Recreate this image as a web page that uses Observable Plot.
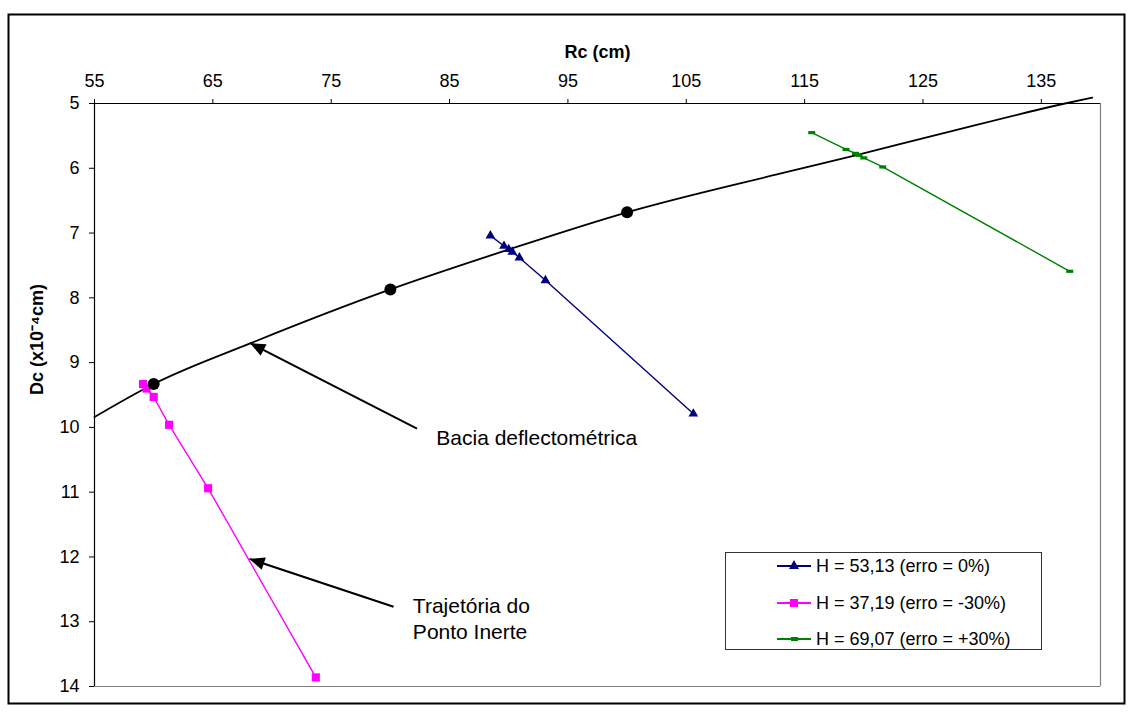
<!DOCTYPE html>
<html>
<head>
<meta charset="utf-8">
<script src="https://cdn.jsdelivr.net/npm/d3@7"></script>
<script src="https://cdn.jsdelivr.net/npm/@observablehq/plot@0.6"></script>
<style>
  html, body { margin: 0; padding: 0; background: #fff; }
  #wrap { position: relative; width: 1132px; height: 716px; font-family: "Liberation Sans", Arial, sans-serif; }
  #wrap svg { position: absolute; left: 0; top: 0; }
  #legend { position: absolute; left: 725px; top: 552px; width: 315px; height: 96px; border: 1px solid #333; background: #fff; font-size: 18px; color: #000; }
  .row { position: absolute; left: 0; height: 20px; width: 100%; }
  .sw { position: absolute; left: 51px; top: 9px; width: 34px; height: 2px; }
  .lab { position: absolute; left: 90px; top: 0; line-height: 20px; white-space: nowrap; }
  .mk { position: absolute; }
</style>
</head>
<body>
<div id="wrap"></div>
<script>
// ---- data ----
const xTicks = [55, 65, 75, 85, 95, 105, 115, 125, 135];
const yTicks = [5, 6, 7, 8, 9, 10, 11, 12, 13, 14];

// Bacia deflectométrica (black curve) and its marked points
const rcBacia = [55, 60, 68.2, 80, 89.9, 100, 113, 119.3, 126.5, 137, 139.3];
const dcBacia = [9.84, 9.33, 8.70, 7.87, 7.26, 6.68, 6.08, 5.80, 5.47, 5.0, 4.91];
const rcDots = [60, 80, 100];
const dcDots = [9.33, 7.87, 6.68];

// H = 53,13 (erro = 0%)
const rcH53 = [88.45, 89.6, 90.0, 90.3, 90.9, 93.1, 105.6];
const dcH53 = [7.04, 7.20, 7.25, 7.29, 7.38, 7.73, 9.79];
// H = 37,19 (erro = -30%)
const rcH37 = [59.1, 59.4, 60.0, 61.3, 64.6, 73.7];
const dcH37 = [9.33, 9.40, 9.53, 9.96, 10.94, 13.86];
// H = 69,07 (erro = +30%)
const rcH69 = [115.6, 118.5, 119.3, 119.6, 120.0, 121.6, 137.4];
const dcH69 = [5.45, 5.71, 5.77, 5.80, 5.84, 5.98, 7.59];

// annotations
const noteText = ["Bacia deflectométrica", "Trajetória do\nPonto Inerte"];
const noteRc = [83.88, 81.9];
const noteDc = [10.14, 12.94];
const arrowTailRc = [82.25, 80.27];
const arrowTailDc = [10.02, 12.77];
const arrowTipRc = [68.16, 68.10];
const arrowTipDc = [8.70, 12.03];

const seriesNames = ["H = 53,13 (erro = 0%)", "H = 37,19 (erro = -30%)", "H = 69,07 (erro = +30%)"];
const seriesColors = ["#000080", "#FF00FF", "#008000"];

// ---- build tables ----
const zip = (xs, ys) => xs.map((x, i) => ({x, y: ys[i]}));
const bacia = zip(rcBacia, dcBacia);
const dots = zip(rcDots, dcDots);
const h53 = zip(rcH53, dcH53);
const h37 = zip(rcH37, dcH37);
const h69 = zip(rcH69, dcH69);
const notes = noteText.map((t, i) => ({t, x: noteRc[i], y: noteDc[i]}));

const base = {
  width: 1132,
  height: 716,
  marginLeft: 94,
  marginTop: 103,
  marginRight: 32,
  marginBottom: 30,
  x: {domain: [55, 140]},
  y: {domain: [5, 14], reverse: true},
  style: {fontFamily: "'Liberation Sans', Arial, sans-serif", fontSize: "18px", color: "#000", background: "transparent", overflow: "visible"}
};

// probe pass to get the scales for arrow-head directions
const probe = Plot.plot({...base, marks: [Plot.ruleX([55])]});
const sx = probe.scale("x"), sy = probe.scale("y");
const arrows = arrowTailRc.map((_, i) => {
  const ang = Math.atan2(sy.apply(arrowTipDc[i]) - sy.apply(arrowTailDc[i]), sx.apply(arrowTipRc[i]) - sx.apply(arrowTailRc[i])) * 180 / Math.PI;
  return {x1: arrowTailRc[i], y1: arrowTailDc[i], x2: arrowTipRc[i], y2: arrowTipDc[i], ang};
});

const headSymbol = {draw(ctx) { ctx.moveTo(0, 0); ctx.lineTo(-15, -6.5); ctx.lineTo(-15, 6.5); ctx.closePath(); }};
const dashSymbol = {draw(ctx) { ctx.rect(-3.5, -1.6, 7, 3.2); }};

const plot = Plot.plot({
  ...base,
  marks: [
    Plot.frame({stroke: "#000", strokeWidth: 2, insetLeft: -86, insetTop: -89, insetRight: -24, insetBottom: -17}),
    Plot.ruleX([140], {stroke: "#808080", strokeWidth: 1.2}),
    Plot.ruleY([14], {stroke: "#808080", strokeWidth: 1.2}),
    Plot.ruleY([5], {stroke: "#000", strokeWidth: 1.2}),
    Plot.ruleX([55], {stroke: "#000", strokeWidth: 1.2}),
    Plot.axisX({anchor: "top", ticks: xTicks, tickSize: 5, tickPadding: 12, label: null, fontSize: 18}),
    Plot.axisY({anchor: "left", ticks: yTicks, tickSize: 5, tickPadding: 10, label: null, fontSize: 18}),
    Plot.text(["Rc (cm)"], {frameAnchor: "top", dy: -58, fontWeight: "bold", fontSize: 18}),
    Plot.text(["Dc (x10⁻⁴cm)"], {frameAnchor: "left", dx: -57, rotate: -90, fontWeight: "bold", fontSize: 18}),
    // black curve
    Plot.line(bacia, {x: "x", y: "y", stroke: "#000", strokeWidth: 1.8, curve: "monotone-x"}),
    // series
    Plot.line(h53, {x: "x", y: "y", stroke: seriesColors[0], strokeWidth: 1.4}),
    Plot.line(h37, {x: "x", y: "y", stroke: seriesColors[1], strokeWidth: 1.4}),
    Plot.line(h69, {x: "x", y: "y", stroke: seriesColors[2], strokeWidth: 1.4}),
    Plot.dot(h53, {x: "x", y: "y", symbol: "triangle", r: 3.6, fill: seriesColors[0], stroke: "none"}),
    Plot.dot(h37, {x: "x", y: "y", symbol: "square", r: 4.6, fill: seriesColors[1], stroke: "none"}),
    Plot.dot(h69, {x: "x", y: "y", symbol: dashSymbol, fill: seriesColors[2], stroke: "none"}),
    Plot.dot(dots, {x: "x", y: "y", r: 6, fill: "#000", stroke: "none"}),
    // annotations
    Plot.link(arrows, {x1: "x1", y1: "y1", x2: "x2", y2: "y2", stroke: "#000", strokeWidth: 2}),
    Plot.dot(arrows, {x: "x2", y: "y2", symbol: headSymbol, rotate: "ang", fill: "#000", stroke: "none"}),
    Plot.text(notes, {x: "x", y: "y", text: "t", textAnchor: "start", lineAnchor: "middle", fontSize: 21, lineHeight: 1.24})
  ]
});

const wrap = document.getElementById("wrap");
wrap.appendChild(plot);

// legend (HTML overlay, inside the plot area)
const legend = document.createElement("div");
legend.id = "legend";
const markers = [
  `<div class="mk" style="left:63px;top:4px;width:0;height:0;border-left:5px solid transparent;border-right:5px solid transparent;border-bottom:9px solid ${seriesColors[0]}"></div>`,
  `<div class="mk" style="left:64px;top:6px;width:8px;height:8px;background:${seriesColors[1]}"></div>`,
  `<div class="mk" style="left:65px;top:8px;width:7px;height:4px;background:${seriesColors[2]}"></div>`
];
const rowTops = [3, 39.5, 76];
seriesNames.forEach((name, i) => {
  const row = document.createElement("div");
  row.className = "row";
  row.style.top = rowTops[i] + "px";
  row.innerHTML = `<div class="sw" style="background:${seriesColors[i]}"></div>${markers[i]}<div class="lab">${name}</div>`;
  legend.appendChild(row);
});
wrap.appendChild(legend);
</script>
</body>
</html>
